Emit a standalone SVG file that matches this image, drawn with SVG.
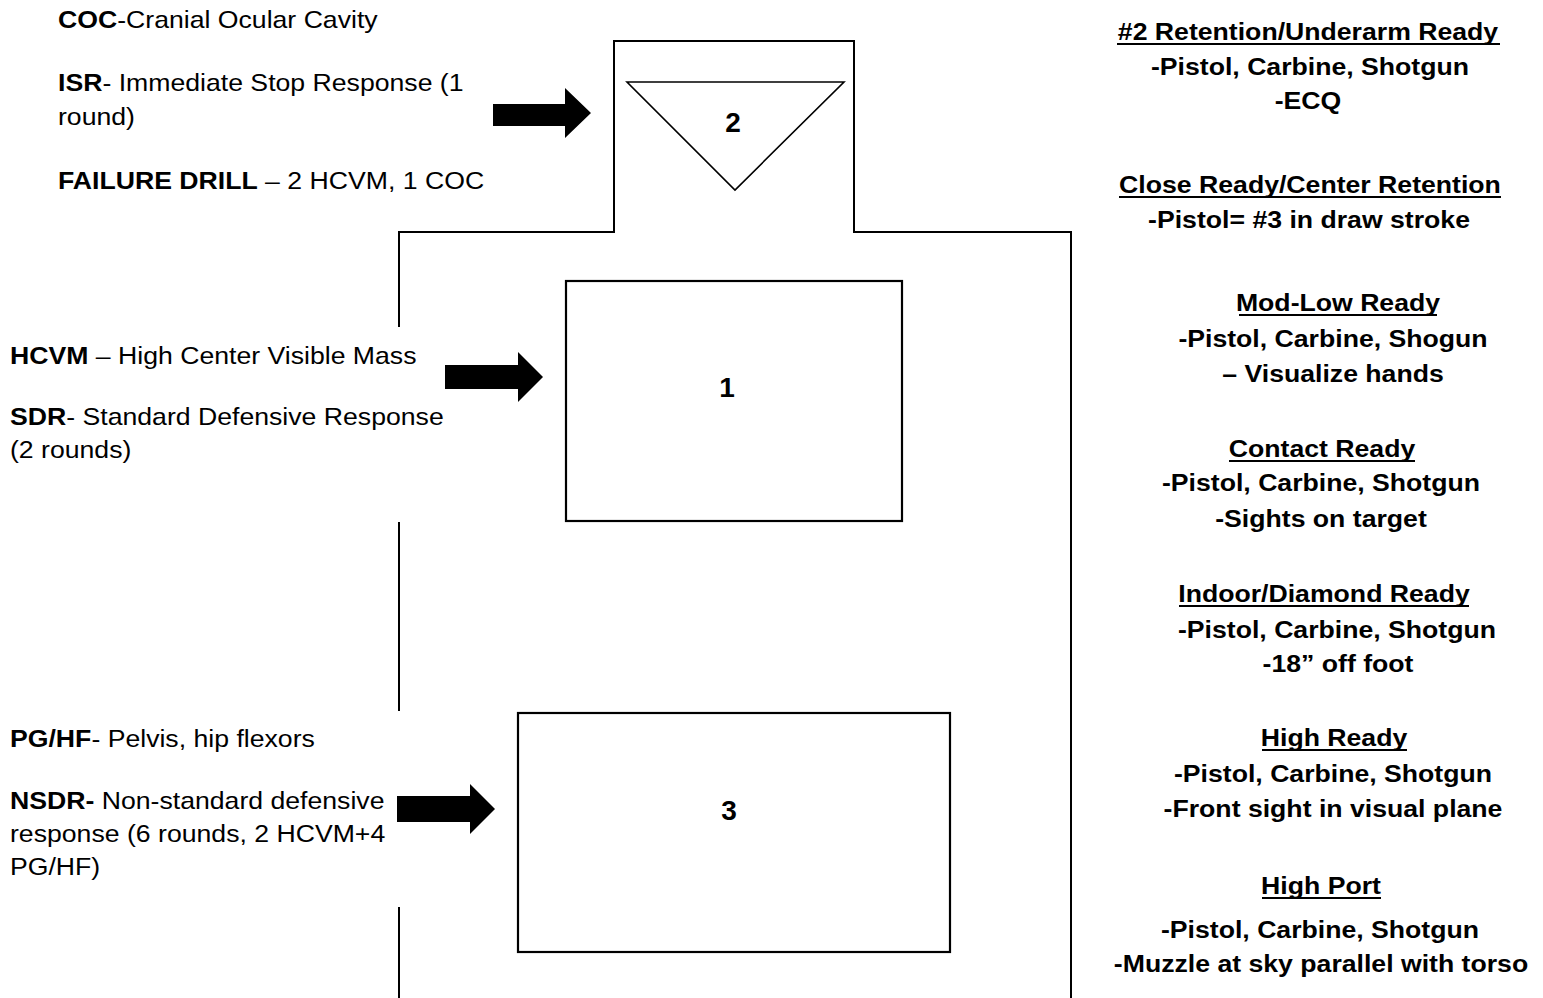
<svg xmlns="http://www.w3.org/2000/svg" width="1543" height="998" viewBox="0 0 1543 998">
<style>
.t{font-family:"Liberation Sans",Arial,Helvetica,sans-serif;font-size:24px;fill:#000}
.b{font-weight:bold}
.ln{stroke:#000;stroke-width:2;fill:none}
.ul{stroke:#000;stroke-width:2}
.box{fill:#fff;stroke:#000;stroke-width:2.2}
.tri{fill:#fff;stroke:#000;stroke-width:1.6}
.arr{fill:#000}
.num{font-family:"Liberation Sans",Arial,sans-serif;font-weight:bold;font-size:28px;text-anchor:middle}
</style>
<rect width="1543" height="998" fill="#fff"/>
<g id="silhouette">
<path class="ln" d="M399 327V232H614V41H854V232H1071V998"/>
<path class="ln" d="M399 522V711"/>
<path class="ln" d="M399 907V998"/>
</g>
<g id="node-2">
<polygon class="tri" points="627,82 844,82 735,190"/>
<text class="num" x="733" y="132">2</text>
</g>
<g id="node-1">
<rect class="box" x="566" y="281" width="336" height="240"/>
<text class="num" x="727" y="397">1</text>
</g>
<g id="node-3">
<rect class="box" x="518" y="713" width="432" height="239"/>
<text class="num" x="729" y="820">3</text>
</g>
<g id="connectors">
<polygon class="arr" points="493,104 565,104 565,88 591,113 565,138 565,126 493,126"/>
<polygon class="arr" points="445,365 518,365 518,352 543,377 518,402 518,389 445,389"/>
<polygon class="arr" points="397,796 470,796 470,784 495,809 470,834 470,822 397,822"/>
</g>
<g id="left-notes">
<text class="t" transform="translate(58 28) scale(1.11 1)"><tspan class="b">COC</tspan>-Cranial Ocular Cavity</text>
<text class="t" transform="translate(58 91) scale(1.11 1)"><tspan class="b">ISR</tspan>- Immediate Stop Response (1</text>
<text class="t" transform="translate(58 125) scale(1.11 1)">round)</text>
<text class="t" transform="translate(58 189) scale(1.11 1)"><tspan class="b">FAILURE DRILL</tspan> – 2 HCVM, 1 COC</text>
<text class="t" transform="translate(10 364) scale(1.11 1)"><tspan class="b">HCVM</tspan> – High Center Visible Mass</text>
<text class="t" transform="translate(10 425) scale(1.11 1)"><tspan class="b">SDR</tspan>- Standard Defensive Response</text>
<text class="t" transform="translate(10 458) scale(1.11 1)">(2 rounds)</text>
<text class="t" transform="translate(10 747) scale(1.11 1)"><tspan class="b">PG/HF</tspan>- Pelvis, hip flexors</text>
<text class="t" transform="translate(10 809) scale(1.11 1)"><tspan class="b">NSDR-</tspan> Non-standard defensive</text>
<text class="t" transform="translate(10 842) scale(1.11 1)">response (6 rounds, 2 HCVM+4</text>
<text class="t" transform="translate(10 875) scale(1.11 1)">PG/HF)</text>
</g>
<g id="right-notes" class="b">
<g text-anchor="middle">
<text class="t b" transform="translate(1308 40) scale(1.11 1)">#2 Retention/Underarm Ready</text>
<text class="t b" transform="translate(1310 75) scale(1.11 1)">-Pistol, Carbine, Shotgun</text>
<text class="t b" transform="translate(1308 109) scale(1.11 1)">-ECQ</text>
<text class="t b" transform="translate(1310 193) scale(1.11 1)">Close Ready/Center Retention</text>
<text class="t b" transform="translate(1309 228) scale(1.11 1)">-Pistol= #3 in draw stroke</text>
<text class="t b" transform="translate(1338 311) scale(1.11 1)">Mod-Low Ready</text>
<text class="t b" transform="translate(1333 347) scale(1.11 1)">-Pistol, Carbine, Shogun</text>
<text class="t b" transform="translate(1333 382) scale(1.11 1)">– Visualize hands</text>
<text class="t b" transform="translate(1322 457) scale(1.11 1)">Contact Ready</text>
<text class="t b" transform="translate(1321 491) scale(1.11 1)">-Pistol, Carbine, Shotgun</text>
<text class="t b" transform="translate(1321 527) scale(1.11 1)">-Sights on target</text>
<text class="t b" transform="translate(1324 602) scale(1.11 1)">Indoor/Diamond Ready</text>
<text class="t b" transform="translate(1337 638) scale(1.11 1)">-Pistol, Carbine, Shotgun</text>
<text class="t b" transform="translate(1338 672) scale(1.11 1)">-18” off foot</text>
<text class="t b" transform="translate(1334 746) scale(1.11 1)">High Ready</text>
<text class="t b" transform="translate(1333 782) scale(1.11 1)">-Pistol, Carbine, Shotgun</text>
<text class="t b" transform="translate(1333 817) scale(1.11 1)">-Front sight in visual plane</text>
<text class="t b" transform="translate(1321 894) scale(1.11 1)">High Port</text>
<text class="t b" transform="translate(1320 938) scale(1.11 1)">-Pistol, Carbine, Shotgun</text>
<text class="t b" transform="translate(1321 972) scale(1.11 1)">-Muzzle at sky parallel with torso</text>
</g>
<g class="ul">
<line x1="1117" y1="44" x2="1500" y2="44"/>
<line x1="1119" y1="197" x2="1501" y2="197"/>
<line x1="1239" y1="315" x2="1437" y2="315"/>
<line x1="1229" y1="461" x2="1415" y2="461"/>
<line x1="1179" y1="606" x2="1469" y2="606"/>
<line x1="1262" y1="750" x2="1407" y2="750"/>
<line x1="1262" y1="898" x2="1381" y2="898"/>
</g>
</g>
</svg>
